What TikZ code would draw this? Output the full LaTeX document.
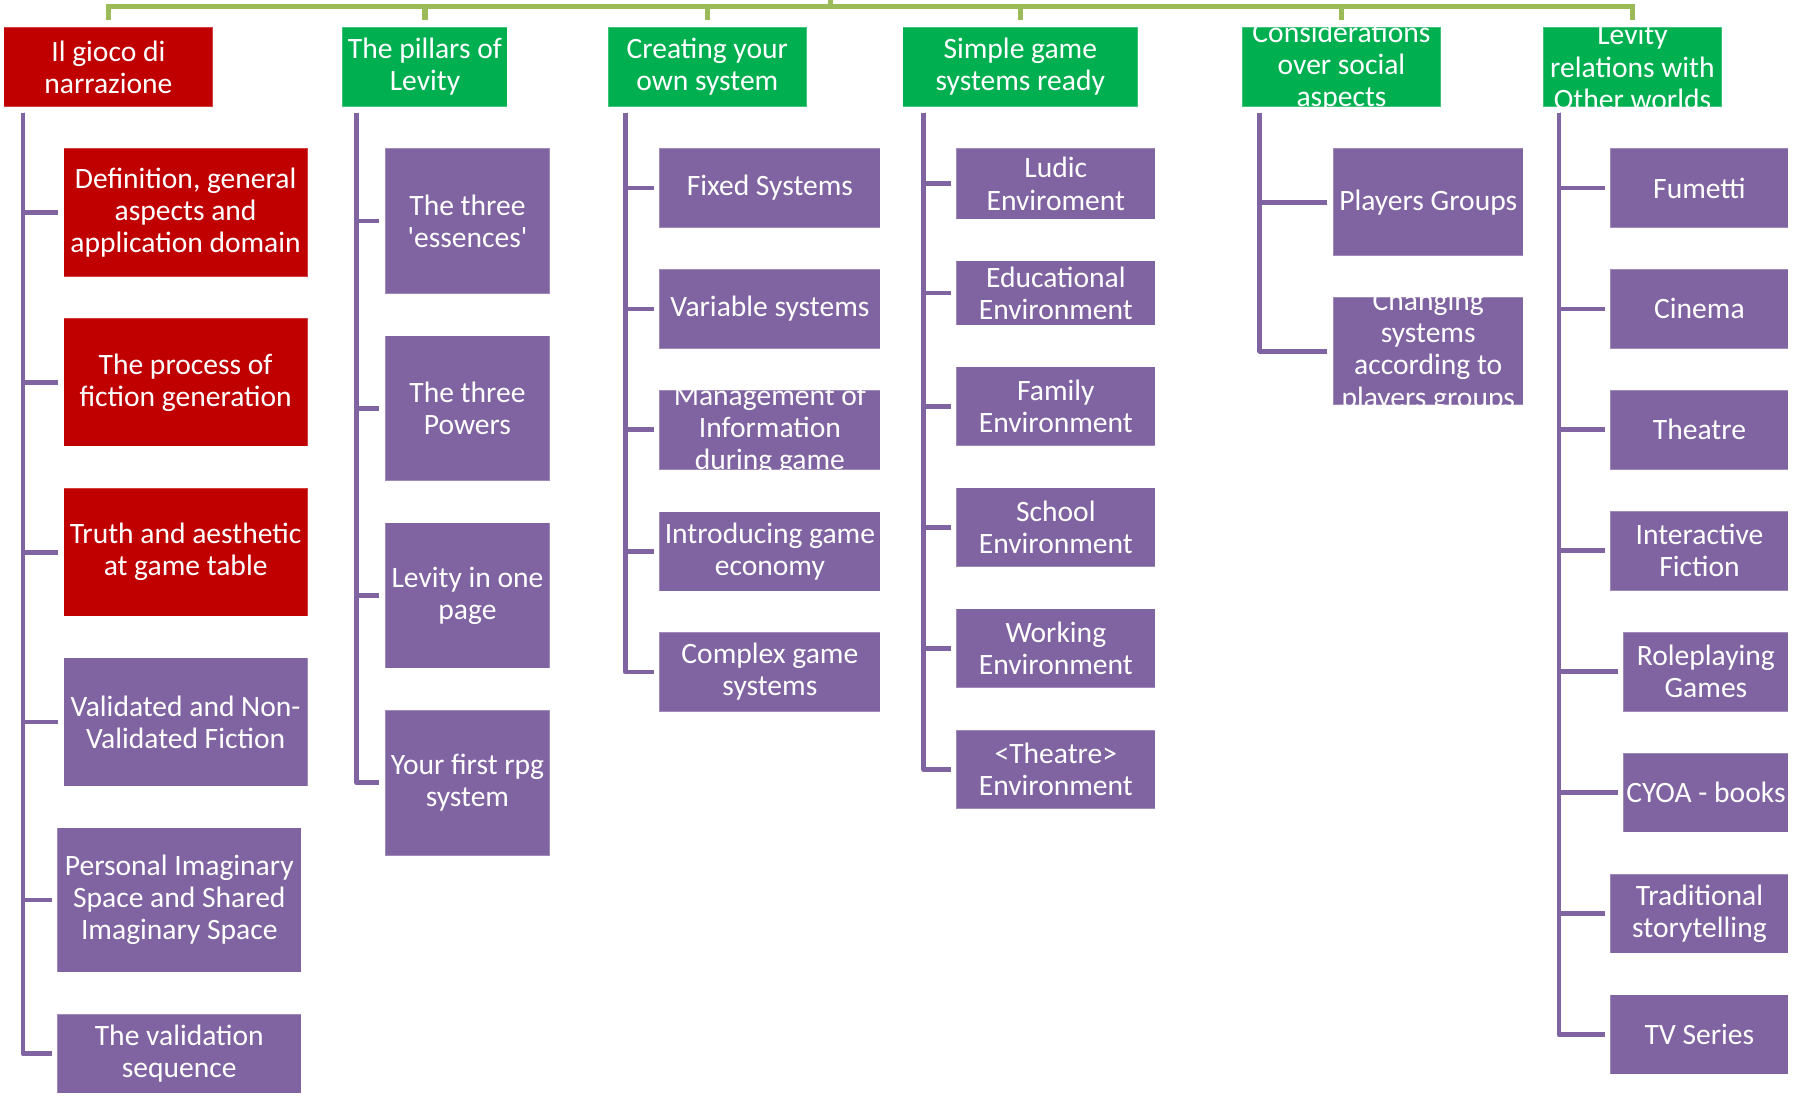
\documentclass[tikz,border=0pt]{standalone}
\usepackage{fontspec}
\setmainfont{Carlito}
\definecolor{nred}{HTML}{C00000}
\definecolor{ngreen}{HTML}{00B050}
\definecolor{npurple}{HTML}{8064A2}
\definecolor{lgreen}{HTML}{9BBB59}
\newcommand\bxfont{\fontsize{12.9pt}{14pt}\selectfont}
% box from corner (x1,y1) to (x2,y2), in picture units
\newcommand\mkbox[7]{%
  \pgfmathsetmacro\bw{(#4-#2)*0.5}%
  \pgfmathsetmacro\bh{(#5-#3)*0.5}%
  \node[#6, minimum width=\bw pt, minimum height=\bh pt] (#1) at ({(#2+#4)/2},{(#3+#5)/2}) {#7};%
}
% same, but the text is clipped to the box
\newcommand\mkclip[7]{%
  \pgfmathsetmacro\bw{(#4-#2)*0.5}%
  \pgfmathsetmacro\bh{(#5-#3)*0.5}%
  \node[#6, minimum width=\bw pt, minimum height=\bh pt,
    path picture={\node[lbl] (#1-txt) at (path picture bounding box.center) {#7};}]
    (#1) at ({(#2+#4)/2},{(#3+#5)/2}) {};%
}
\tikzset{
  base/.style={rectangle, inner sep=0pt, outer sep=0pt, text=white, align=center,
    font=\bxfont, draw=white, draw opacity=0.25, line width=0.5pt},
  redbox/.style={base, fill=nred},
  greenbox/.style={base, fill=ngreen},
  purplebox/.style={base, fill=npurple},
  lbl/.style={text=white, align=center, font=\bxfont, inner sep=0pt},
  gline/.style={draw=lgreen, line width=2.3pt, line join=miter, shorten >=3pt},
  pline/.style={draw=npurple, line width=2.1pt, line join=round, shorten >=2.5pt}
}
\begin{document}
\begin{tikzpicture}[x=0.5pt, y=-0.5pt]
\useasboundingbox (0,0) rectangle (1568,956);

% top level
\mkbox{t1}{3.3}{23.9}{186}{93.1}{redbox}{Il gioco di\\narrazione}
\mkbox{t2}{299}{23.9}{443}{93.1}{greenbox}{The pillars of\\Levity}
\mkbox{t3}{530.8}{23.9}{704.2}{93.1}{greenbox}{Creating your\\own system}
\mkbox{t4}{788}{23.9}{993.5}{93.1}{greenbox}{Simple game\\systems ready}
\mkclip{t5}{1084.4}{23.9}{1258}{93.1}{greenbox}{Considerations\\over social\\aspects}
\mkclip{t6}{1347.4}{23.9}{1503}{93.1}{greenbox}{Levity\\relations with\\Other worlds}

% branch 1
\mkbox{a1}{55.5}{129.5}{268.6}{241.5}{redbox}{Definition, general\\aspects and\\application domain}
\mkbox{a2}{55.5}{277.8}{268.6}{389.8}{redbox}{The process of\\fiction generation}
\mkbox{a3}{55.5}{426.1}{268.6}{538.1}{redbox}{Truth and aesthetic\\at game table}
\mkbox{a4}{55.5}{574.4}{268.6}{686.4}{purplebox}{Validated and Non-\\Validated Fiction}
\mkbox{a5}{50.1}{722.6}{263}{848.8}{purplebox}{Personal Imaginary\\Space and Shared\\Imaginary Space}
\mkbox{a6}{50.1}{885.5}{263}{954.5}{purplebox}{The validation\\sequence}

% branch 2
\mkbox{b1}{336.1}{129.5}{480.1}{256.5}{purplebox}{The three\\\textquotesingle essences\textquotesingle}
\mkbox{b2}{336.1}{293}{480.1}{420}{purplebox}{The three\\Powers}
\mkbox{b3}{336.1}{456.5}{480.1}{583.5}{purplebox}{Levity in one\\page}
\mkbox{b4}{336.1}{620}{480.1}{747}{purplebox}{Your first rpg\\system}

% branch 3
\mkbox{c1}{575.6}{129.5}{768.7}{198.9}{purplebox}{Fixed Systems}
\mkbox{c2}{575.6}{235}{768.7}{304.4}{purplebox}{Variable systems}
\mkclip{c3}{575.6}{340.5}{768.7}{409.9}{purplebox}{Management of\\Information\\during game}
\mkbox{c4}{575.6}{446.7}{768.7}{516.1}{purplebox}{Introducing game\\economy}
\mkbox{c5}{575.6}{552}{768.7}{621.4}{purplebox}{Complex game\\systems}

% branch 4
\mkbox{d1}{835}{129.5}{1008.6}{191.5}{purplebox}{Ludic\\Enviroment}
\mkbox{d2}{835}{227.6}{1008.6}{284}{purplebox}{Educational\\Environment}
\mkbox{d3}{835}{320}{1008.6}{389.4}{purplebox}{Family\\Environment}
\mkbox{d4}{835}{425.7}{1008.6}{495}{purplebox}{School\\Environment}
\mkbox{d5}{835}{531.4}{1008.6}{600.6}{purplebox}{Working\\Environment}
\mkbox{d6}{835}{637.3}{1008.6}{706.3}{purplebox}{\textless Theatre\textgreater\\Environment}

% branch 5
\mkbox{e1}{1163.8}{129.5}{1330}{223.5}{purplebox}{Players Groups}
\mkclip{e2}{1163.8}{259.6}{1330}{353.6}{purplebox}{Changing\\systems\\according to\\players groups}

% branch 6
\mkbox{f1}{1406}{129.5}{1561.4}{198.9}{purplebox}{Fumetti}
\mkbox{f2}{1406}{235}{1561.4}{304.4}{purplebox}{Cinema}
\mkbox{f3}{1406}{340.5}{1561.4}{409.9}{purplebox}{Theatre}
\mkbox{f4}{1406}{446.2}{1561.4}{515.6}{purplebox}{Interactive\\Fiction}
\mkbox{f5}{1417.3}{551.8}{1561.4}{621.2}{purplebox}{Roleplaying\\Games}
\mkbox{f6}{1417.3}{657.4}{1561.4}{726.8}{purplebox}{CYOA - books}
\mkbox{f7}{1406}{763}{1561.4}{832.4}{purplebox}{Traditional\\storytelling}
\mkbox{f8}{1406}{868.6}{1561.4}{938}{purplebox}{TV Series}

% green bus from the root
\coordinate (root) at (725,-8);
\coordinate (bus) at (725,5.8);
\foreach \t in {t1,t2,t3,t4,t5,t6}
  \draw[gline] (root) -- (bus) -| (\t.north);

% purple spines under each top-level box
\coordinate (a-sp) at (20,98.4);
\coordinate (b-sp) at (311.5,98.4);
\coordinate (c-sp) at (546,98.4);
\coordinate (d-sp) at (806.6,98.4);
\coordinate (e-sp) at (1099.8,98.4);
\coordinate (f-sp) at (1361,98.4);
\foreach \c in {a1,a2,a3,a4,a5,a6} \draw[pline] (a-sp) |- (\c.west);
\foreach \c in {b1,b2,b3,b4} \draw[pline] (b-sp) |- (\c.west);
\foreach \c in {c1,c2,c3,c4,c5} \draw[pline] (c-sp) |- (\c.west);
\foreach \c in {d1,d2,d3,d4,d5,d6} \draw[pline] (d-sp) |- (\c.west);
\foreach \c in {e1,e2} \draw[pline] (e-sp) |- (\c.west);
\foreach \c in {f1,f2,f3,f4,f5,f6,f7,f8} \draw[pline] (f-sp) |- (\c.west);
\end{tikzpicture}
\end{document}
